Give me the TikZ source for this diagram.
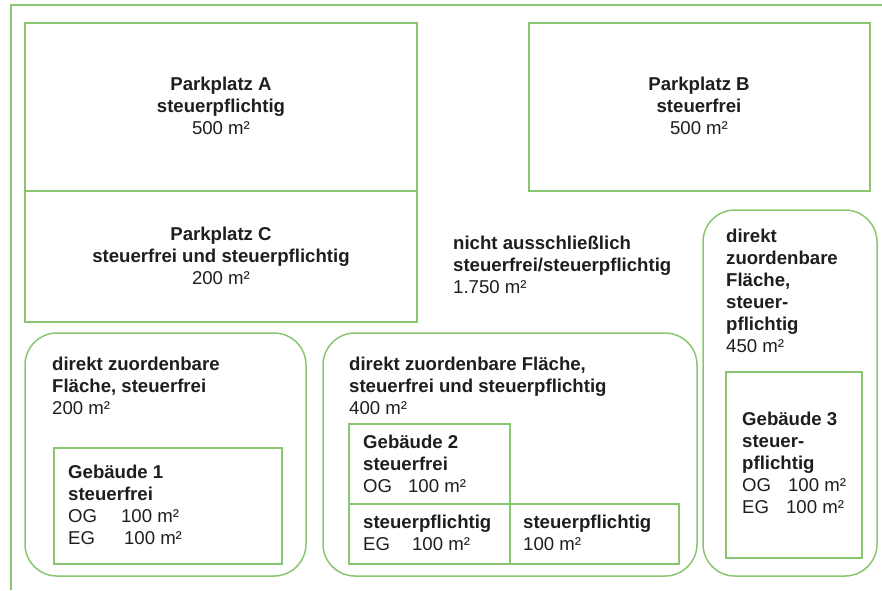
\documentclass[tikz,border=0pt]{standalone}
\usepackage{fontspec}
\setmainfont{Liberation Sans}
\definecolor{lgreen}{RGB}{136,198,112}
\definecolor{txt}{RGB}{30,30,30}
\newcommand\fsz{\fontsize{18.6}{22}\selectfont}
\newcommand\fst{\rule{0pt}{16pt}}
\begin{document}
\begin{tikzpicture}[x=1pt,y=-1pt,
  frame/.style={draw=lgreen,line width=1.5pt},
  rbox/.style={draw=lgreen,line width=1.5pt,rounded corners=32pt},
  lbl/.style={inner sep=0pt,text=txt,font=\fsz},
  lblL/.style={lbl,anchor=north west,align=left},
  lblC/.style={lbl,anchor=north,align=center}]
\useasboundingbox (0,0) rectangle (882,590);
% outer frame
\draw[frame] (11,590) -- (11,5) -- (882,5);
% parking lots
\draw[frame] (25,23) rectangle (417,191);
\draw[frame] (25,191) rectangle (417,322);
\draw[frame] (529,23) rectangle (870,191);
% rounded areas
\draw[rbox] (25,333) rectangle (306,576);
\draw[rbox] (323,333) rectangle (697,576);
\draw[rbox] (703,210) rectangle (877,576);
% buildings
\draw[frame] (54,448) rectangle (282,564);
\draw[frame] (349,424) rectangle (510,504);
\draw[frame] (349,504) rectangle (679,564);
\draw[frame] (510,504) -- (510,564);
\draw[frame] (726,372) rectangle (862,558);
% texts
\node[lblC] (pa) at (221,74.5) {\fst\textbf{Parkplatz A}\\\textbf{steuerpflichtig}\\500 m²};
\node[lblC] (pc) at (221,224) {\fst\textbf{Parkplatz C}\\\textbf{steuerfrei und steuerpflichtig}\\200 m²};
\node[lblC] (pb) at (699,74) {\fst\textbf{Parkplatz B}\\\textbf{steuerfrei}\\500 m²};
\node[lblL] (nicht) at (453,233) {\fst\textbf{nicht ausschließlich}\\\textbf{steuerfrei/steuerpflichtig}\\1.750 m²};
\node[lblL] (d3) at (726,226) {\fst\textbf{direkt}\\\textbf{zuordenbare}\\\textbf{Fläche,}\\\textbf{steuer-}\\\textbf{pflichtig}\\450 m²};
\node[lblL] (d1) at (52,354) {\fst\textbf{direkt zuordenbare}\\\textbf{Fläche, steuerfrei}\\200 m²};
\node[lblL] (d2) at (349,354) {\fst\textbf{direkt zuordenbare Fläche,}\\\textbf{steuerfrei und steuerpflichtig}\\400 m²};
\node[lblL] (g1) at (68,462) {\fst\textbf{Gebäude 1}\\\textbf{steuerfrei}\\OG\hspace{24pt}100 m²\\EG\hspace{29pt}100 m²};
\node[lblL] (g2) at (363,432) {\fst\textbf{Gebäude 2}\\\textbf{steuerfrei}\\OG\hspace{16pt}100 m²};
\node[lblL] (g2b) at (363,512) {\fst\textbf{steuerpflichtig}\\EG\hspace{22pt}100 m²};
\node[lblL] (g2c) at (523,512) {\fst\textbf{steuerpflichtig}\\100 m²};
\node[lblL] (g3) at (742,409) {\fst\textbf{Gebäude 3}\\\textbf{steuer-}\\\textbf{pflichtig}\\OG\hspace{17pt}100 m²\\EG\hspace{17pt}100 m²};
\end{tikzpicture}
\end{document}
